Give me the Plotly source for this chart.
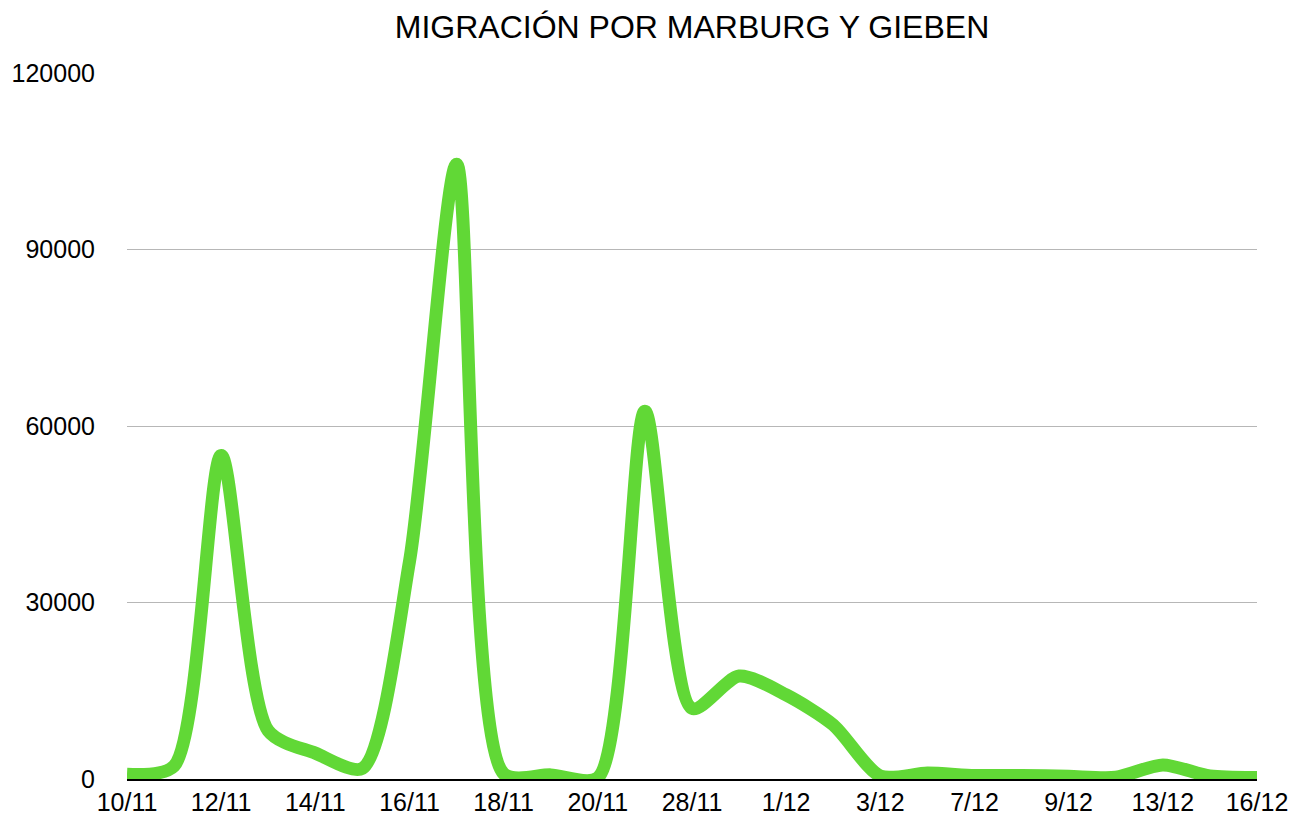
import plotly.graph_objects as go

# Categories (dates) – only every other one is labelled on the axis
categories = ['10/11', '11/11', '12/11', '13/11', '14/11', '15/11', '16/11', '17/11',
              '18/11', '19/11', '20/11', '27/11', '28/11', '30/11', '1/12', '2/12',
              '3/12', '5/12', '7/12', '8/12', '9/12', '12/12', '13/12', '15/12', '16/12']
migration = [800, 2200, 55000, 8200, 4400, 1800, 37000, 104500,
             900, 700, 200, 62500, 12000, 17500, 14300, 9200,
             500, 1000, 600, 600, 450, 300, 2400, 500, 250]
tick_labels = ['10/11', '12/11', '14/11', '16/11', '18/11', '20/11', '28/11',
               '1/12', '3/12', '7/12', '9/12', '13/12', '16/12']
y_ticks = [0, 30000, 60000, 90000, 120000]
title_text = 'MIGRACIÓN POR MARBURG Y GIEBEN'

fig = go.Figure()
fig.add_trace(go.Scatter(
    x=categories, y=migration, mode='lines',
    line=dict(color='#61d836', width=13, shape='spline', smoothing=0.75),
    hoverinfo='x+y', showlegend=False,
))

font_family = 'Liberation Sans, Arial, sans-serif'
W, H = 1300, 813  # page body has an 8px margin
fig.update_layout(
    width=W, height=H,
    margin=dict(l=119, r=51, t=65, b=42),
    paper_bgcolor='white', plot_bgcolor='white',
    title=dict(text=title_text, x=0.5, xref='paper', xanchor='center',
               y=1 - 19 / H, yanchor='middle', automargin=False,
               font=dict(family=font_family, size=32, color='black')),
    font=dict(family=font_family, color='black'),
    xaxis=dict(type='category', range=[0, len(categories) - 1], automargin=False,
               tickmode='array', tickvals=tick_labels, ticktext=tick_labels,
               showgrid=False, zeroline=False, showline=True,
               linecolor='black', linewidth=2, layer='below traces',
               ticks='', tickfont=dict(size=25, family=font_family, color='black')),
    yaxis=dict(range=[0, 120000], tickmode='array', tickvals=y_ticks, automargin=False,
               ticktext=[str(v) for v in y_ticks],
               showgrid=True, gridcolor='#b7b7b7', gridwidth=1,
               zeroline=False, showline=False, ticks='',
               ticklabelstandoff=31,
               tickfont=dict(size=25, family=font_family, color='black')),
)

fig.write_html('out.html')
